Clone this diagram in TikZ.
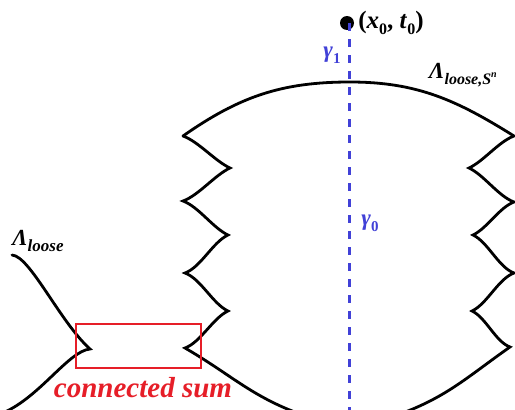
\documentclass[tikz,border=0pt]{standalone}
\usepackage{fontspec}
\setmainfont{Liberation Serif}
\usetikzlibrary{positioning}
\definecolor{gblue}{RGB}{65,65,215}
\definecolor{sumred}{RGB}{230,30,40}
\newcommand{\lowsub}[2][15]{\raisebox{-0.25em}{\fontsize{#1}{#1}\selectfont #2}}

\begin{document}
\begin{tikzpicture}[x=1pt, y=1pt,%
        front/.style={line width=2.8pt, black, line cap=round},
        ray/.style={line width=3pt, gblue, dash pattern=on 8pt off 8pt},
        lab/.style={font=\fontsize{23}{23}\selectfont\bfseries, inner sep=0pt},
        glab/.style={lab, text=gblue},
        sumbox/.style={draw=sumred, line width=2.4pt, minimum width=125pt, minimum height=44pt, inner sep=0pt}%
    ]
        \clip (0,0) rectangle (515,-410);

        % cusps of the sphere front
        \coordinate (l1) at (183,-136);
        \coordinate (r1) at (230,-168);
        \coordinate (l2) at (183,-201);
        \coordinate (r2) at (228,-235);
        \coordinate (l3) at (185,-273);
        \coordinate (r3) at (228,-311);
        \coordinate (l4) at (185,-348);
        \coordinate (a1) at (514,-136);
        \coordinate (b1) at (469,-168);
        \coordinate (a2) at (514,-202);
        \coordinate (b2) at (473,-235);
        \coordinate (a3) at (514,-273);
        \coordinate (b3) at (472,-311);
        \coordinate (a4) at (510,-347);
        \coordinate (top) at (350,-82);

        \tikzset{down/.style={out=-20, in=155, looseness=0.75}, back/.style={out=205, in=20, looseness=0.75}}
        \draw[front] (l1) to[out=35, in=180] (top) to[out=0, in=148] (a1);
        \draw[front] (l1) to[down] (r1) to[back] (l2)
            to[down] (r2) to[back] (l3)
            to[down] (r3) to[back] (l4)
            to[out=-30, in=160] (300,-414);
        \draw[front] (a1) to[out=200, in=25, looseness=0.75] (b1) to[out=-25, in=160, looseness=0.75] (a2)
            to[out=200, in=25, looseness=0.75] (b2) to[out=-25, in=160, looseness=0.75] (a3)
            to[out=200, in=25, looseness=0.75] (b3) to[out=-25, in=160, looseness=0.75] (a4)
            to[out=-145, in=20] (400,-414);

        % loose front on the left
        \coordinate (ls) at (12,-255);
        \coordinate (lc) at (90,-349);
        \draw[front] (ls) .. controls (30,-256) and (60,-322) .. (lc)
            .. controls (68,-351) and (38,-400) .. (0,-414);

        \node[sumbox] (sum) at (138.5,-346) {};
        \node[font=\fontsize{29}{29}\selectfont\bfseries\itshape, text=sumred, inner sep=0pt] (sumtxt) at (143,-388) {connected sum};

        % point and the rays
        \node[circle, fill=black, minimum size=14pt, inner sep=0pt] (pt) at (347,-23) {};
        \coordinate (foot) at (349,-414);
        \draw[ray] ([xshift=2pt]pt.center) -- (foot);

        \node[lab, font=\fontsize{25}{25}\selectfont\bfseries, right=4pt of pt] (ptlab) {(\textit{x}\lowsub[16]{0}, \textit{t}\lowsub[16]{0})};
        \node[glab] (g1) at (332,-55) {\textit{γ}\lowsub{1}};
        \node[glab] (g0) at (370,-223) {\textit{γ}\lowsub{0}};
        \node[lab] (lloose) at (38,-241) {\textit{Λ\lowsub[17]{loose}}};
        \node[lab] (lsn) at (463,-75) {\textit{Λ\lowsub[16]{loose,S\raisebox{0.45em}{\fontsize{10}{10}\selectfont n}}}};
    \end{tikzpicture}
\end{document}
